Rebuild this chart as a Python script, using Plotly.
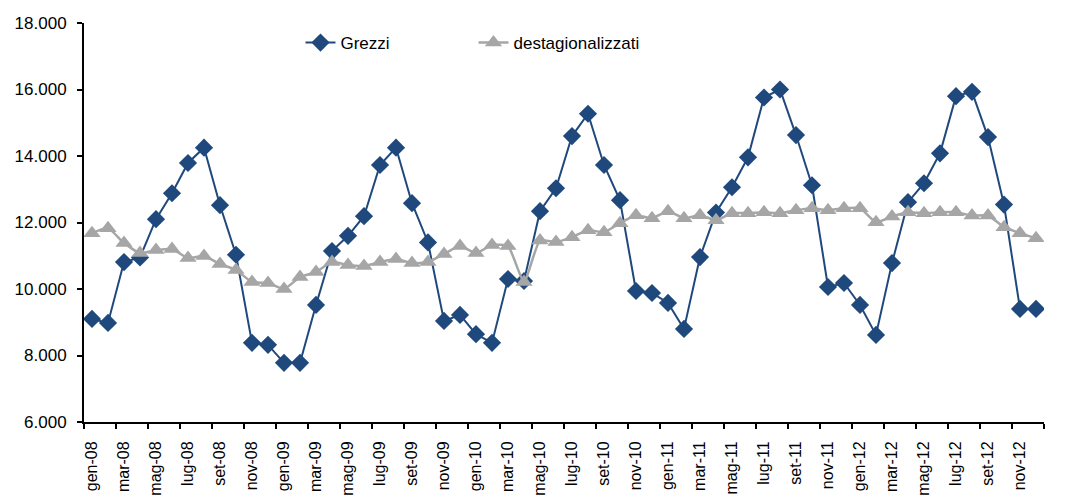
import plotly.graph_objects as go

months = []
mnames = ["gen", "feb", "mar", "apr", "mag", "giu", "lug", "ago", "set", "ott", "nov", "dic"]
for yy in ["08", "09", "10", "11", "12"]:
    for m in mnames:
        months.append(f"{m}-{yy}")

grezzi = [
    9100, 8980, 10810, 10950, 12100, 12880, 13790, 14250, 12520, 11030, 8380, 8320,
    7780, 7780, 9520, 11140, 11600, 12190, 13730, 14250, 12580, 11400, 9040, 9220,
    8640, 8380, 10300, 10240, 12340, 13030, 14600, 15270, 13730, 12670, 9940, 9880,
    9580, 8800, 10960, 12300, 13060, 13960, 15760, 16000, 14630, 13120, 10060, 10180,
    9520, 8620, 10780, 12610, 13180, 14080, 15800, 15930, 14570, 12540, 9400, 9400,
]
destag = [
    11680, 11830, 11380, 11080, 11170, 11200, 10930, 10990, 10750, 10570, 10210, 10180,
    10000, 10360, 10510, 10810, 10720, 10690, 10810, 10900, 10780, 10810, 11050, 11290,
    11080, 11320, 11290, 10210, 11460, 11410, 11560, 11770, 11710, 11980, 12220, 12130,
    12340, 12130, 12220, 12070, 12280, 12280, 12310, 12280, 12370, 12430, 12370, 12430,
    12430, 12010, 12180, 12310, 12280, 12310, 12310, 12210, 12210, 11860, 11680, 11530,
]

FONT = "Liberation Sans, Arial, sans-serif"
BLUE = "#1F497D"
GREY = "#A6A6A6"

fig = go.Figure()
fig.add_trace(go.Scatter(
    x=months, y=grezzi, name="Grezzi", mode="lines+markers",
    line=dict(color=BLUE, width=2),
    marker=dict(symbol="diamond", size=14, color=BLUE),
))
fig.add_trace(go.Scatter(
    x=months, y=destag, name="destagionalizzati", mode="lines+markers",
    line=dict(color=GREY, width=2.5, shape="spline", smoothing=0.5),
    marker=dict(symbol="triangle-up", size=15, color=GREY),
))

fig.update_layout(
    width=1058, height=491,
    margin=dict(l=76, r=22, t=15, b=77),
    paper_bgcolor="white", plot_bgcolor="white",
    separators=",.",
    font=dict(family=FONT, size=17, color="black"),
    showlegend=True,
    legend=dict(
        orientation="h", x=0.2255, y=0.995, xanchor="left", yanchor="top",
        font=dict(size=17), bgcolor="rgba(0,0,0,0)", entrywidth=128,
    ),
    xaxis=dict(
        type="category", tickmode="linear", tick0=0, dtick=2,
        tickson="boundaries", ticks="outside", ticklen=5, tickwidth=2,
        tickcolor="black", showline=True, linecolor="black", linewidth=2,
        showgrid=False, tickangle=-90, range=[-0.5, len(months) - 0.5],
        tickfont=dict(size=16), automargin=False, ticklabelstandoff=11,
    ),
    yaxis=dict(
        range=[6000, 18000], tickmode="linear", tick0=6000, dtick=2000,
        tickformat=",d", ticks="outside", ticklen=5, tickwidth=2,
        tickcolor="black", showline=True, linecolor="black", linewidth=2,
        showgrid=False, zeroline=False, tickfont=dict(size=17),
        automargin=False, ticklabelstandoff=7,
    ),
)

fig.write_html("out.html")
